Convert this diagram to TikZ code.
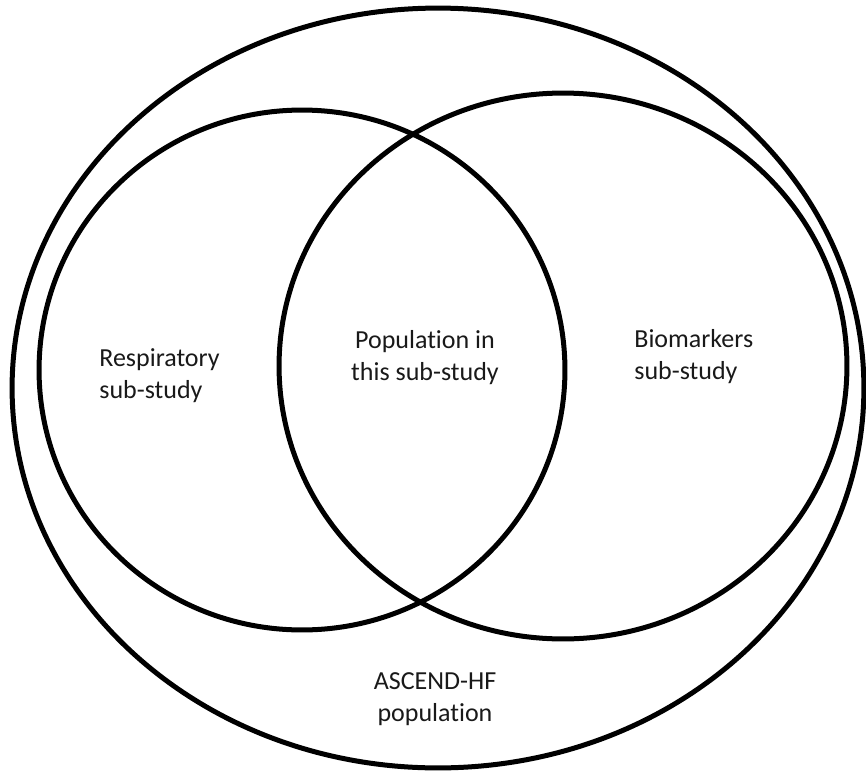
\documentclass[tikz,border=0pt]{standalone}
\usepackage{fontspec}
\setmainfont[Ligatures=NoCommon]{Carlito}
\usetikzlibrary{shapes.geometric, positioning}

\begin{document}
\begin{tikzpicture}[x=0.02cm, y=-0.02cm,
  set/.style={ellipse, draw=black, line width=0.1cm, inner sep=0pt},
  label/.style={font=\fontsize{14.8}{18.2}\selectfont, text=black!90, inner sep=0pt}]

\useasboundingbox (0,0) rectangle (866,771);

\node[set, minimum width=17.04cm, minimum height=15.2cm] (ascend) at (438,388) {};
\node[set, minimum width=10.52cm, minimum height=10.4cm] (resp) at (302,370) {};
\node[set, minimum width=11.36cm, minimum height=10.92cm] (bio) at (563,366) {};

\node[label, align=left, anchor=west] (resptext) at (99,376) {Respiratory\\ sub-study};
\node[label, align=center] (poptext) at (425,358) {Population in\\ this sub-study};
\node[label, align=left, anchor=west] (biotext) at (634,357) {Biomarkers\\ sub-study};
\node[label, align=center] (ascendtext) at (435,699) {ASCEND-HF\\ population};

\end{tikzpicture}
\end{document}
